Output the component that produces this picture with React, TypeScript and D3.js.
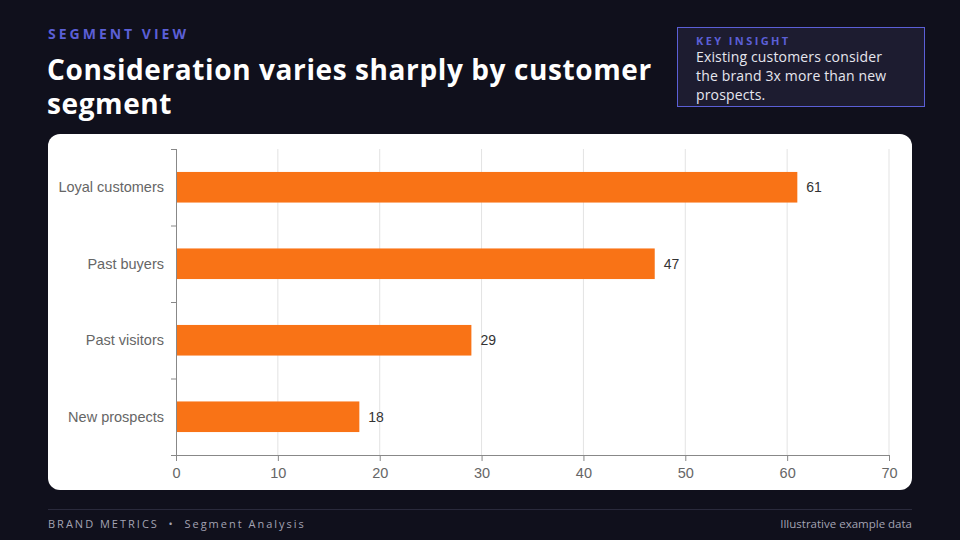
import { useEffect, useRef } from "react"
import * as d3 from "d3"

const segments = ["Loyal customers", "Past buyers", "Past visitors", "New prospects"]
const consideration = [61, 47, 29, 18]
const xTicks = [0, 10, 20, 30, 40, 50, 60, 70]
const insightLines = [
  "Existing customers consider",
  "the brand 3x more than new",
  "prospects.",
]

const W = 960
const H = 540

const App = () => {
  const svgRef = useRef<SVGSVGElement | null>(null)

  useEffect(() => {
    const svg = d3.select(svgRef.current)
    svg.selectAll("*").remove()

    svg.append("rect").attr("width", W).attr("height", H).attr("fill", "#10101c")

    // Header
    svg
      .append("text")
      .attr("x", 48)
      .attr("y", 39)
      .attr("fill", "#5b5fd6")
      .style("font", "bold 14px 'Open Sans', sans-serif")
      .style("letter-spacing", "3px")
      .text("SEGMENT VIEW")

    const title = svg
      .append("text")
      .attr("fill", "#ffffff")
      .style("font", "bold 28px 'Open Sans', sans-serif")
      .style("letter-spacing", "0.6px")
    title.append("tspan").attr("x", 47).attr("y", 80).text("Consideration varies sharply by customer")
    title.append("tspan").attr("x", 47).attr("y", 114).text("segment")

    // Insight box
    svg
      .append("rect")
      .attr("x", 677.5)
      .attr("y", 27.5)
      .attr("width", 247)
      .attr("height", 79)
      .attr("fill", "#1d1c30")
      .attr("stroke", "#5b5fd6")
      .attr("stroke-width", 1)
    svg
      .append("text")
      .attr("x", 696)
      .attr("y", 45)
      .attr("fill", "#5b5fd6")
      .style("font", "bold 11px 'Open Sans', sans-serif")
      .style("letter-spacing", "2.4px")
      .text("KEY INSIGHT")
    svg
      .append("g")
      .selectAll("text")
      .data(insightLines)
      .join("text")
      .attr("x", 696)
      .attr("y", (_, i) => 62 + i * 19)
      .attr("fill", "#e6e6ee")
      .style("font", "14px 'Open Sans', sans-serif")
      .style("letter-spacing", "0.15px")
      .text((d) => d)

    // Card
    svg
      .append("rect")
      .attr("x", 48)
      .attr("y", 134)
      .attr("width", 864)
      .attr("height", 356)
      .attr("rx", 12)
      .attr("fill", "#ffffff")

    const plot = { left: 176, right: 889, top: 149, bottom: 455 }

    const x = d3.scaleLinear().domain([0, 70]).range([plot.left, plot.right])
    const y = d3.scaleBand().domain(segments).range([plot.top, plot.bottom]).padding(0)

    // Gridlines
    svg
      .append("g")
      .selectAll("line")
      .data(xTicks.slice(1))
      .join("line")
      .attr("x1", (d) => x(d))
      .attr("x2", (d) => x(d))
      .attr("y1", plot.top)
      .attr("y2", plot.bottom)
      .attr("stroke", "#e3e3e3")
      .attr("stroke-width", 1)

    // Bars
    const barH = y.bandwidth() * 0.4
    svg
      .append("g")
      .selectAll("rect")
      .data(segments)
      .join("rect")
      .attr("x", x(0))
      .attr("y", (d) => y(d)! + (y.bandwidth() - barH) / 2)
      .attr("width", (_, i) => x(consideration[i]) - x(0))
      .attr("height", barH)
      .attr("fill", "#f97316")

    // Value labels
    svg
      .append("g")
      .selectAll("text")
      .data(segments)
      .join("text")
      .attr("x", (_, i) => x(consideration[i]) + 9)
      .attr("y", (d) => y(d)! + y.bandwidth() / 2)
      .attr("dy", "0.35em")
      .attr("fill", "#333333")
      .style("font", "14px 'Liberation Sans', Arial, sans-serif")
      .text((_, i) => consideration[i])

    // Axes
    const xAxis = svg
      .append("g")
      .attr("transform", `translate(0,${plot.bottom})`)
      .call(d3.axisBottom(x).tickValues(xTicks).tickSize(6).tickSizeOuter(0).tickPadding(7))
    xAxis.select(".domain").attr("stroke", "#888888")
    xAxis.selectAll(".tick line").attr("stroke", "#888888")
    xAxis
      .selectAll(".tick text")
      .attr("fill", "#666666")
      .style("font", "14.5px 'Liberation Sans', Arial, sans-serif")

    const yTickPositions = [...segments.map((s) => y(s)!), plot.bottom]
    const yAxis = svg.append("g")
    yAxis
      .append("line")
      .attr("x1", plot.left + 0.5)
      .attr("x2", plot.left + 0.5)
      .attr("y1", plot.top)
      .attr("y2", plot.bottom)
      .attr("stroke", "#888888")
    yAxis
      .selectAll("line.tick")
      .data(yTickPositions)
      .join("line")
      .attr("class", "tick")
      .attr("x1", plot.left - 5)
      .attr("x2", plot.left)
      .attr("y1", (d) => d + 0.5)
      .attr("y2", (d) => d + 0.5)
      .attr("stroke", "#888888")
    yAxis
      .selectAll("text")
      .data(segments)
      .join("text")
      .attr("x", plot.left - 12)
      .attr("y", (d) => y(d)! + y.bandwidth() / 2)
      .attr("dy", "0.35em")
      .attr("text-anchor", "end")
      .attr("fill", "#666666")
      .style("font", "14.5px 'Liberation Sans', Arial, sans-serif")
      .text((d) => d)

    // Footer
    svg
      .append("line")
      .attr("x1", 48)
      .attr("x2", 912)
      .attr("y1", 509.5)
      .attr("y2", 509.5)
      .attr("stroke", "#2a2a3c")
    svg
      .append("text")
      .attr("x", 48)
      .attr("y", 528)
      .attr("fill", "#a3a3b3")
      .style("font", "11px 'Open Sans', sans-serif")
      .style("letter-spacing", "2px")
      .style("white-space", "pre")
      .text("BRAND METRICS  •  Segment Analysis")
    svg
      .append("text")
      .attr("x", 912)
      .attr("y", 528)
      .attr("text-anchor", "end")
      .attr("fill", "#a3a3b3")
      .style("font", "11.5px 'Open Sans', sans-serif")
      .text("Illustrative example data")
  }, [])

  return (
    <div style={{ position: "fixed", left: 0, top: 0, width: W, height: H }}>
      <svg ref={svgRef} width={W} height={H} style={{ display: "block" }} />
    </div>
  )
}

export default App
